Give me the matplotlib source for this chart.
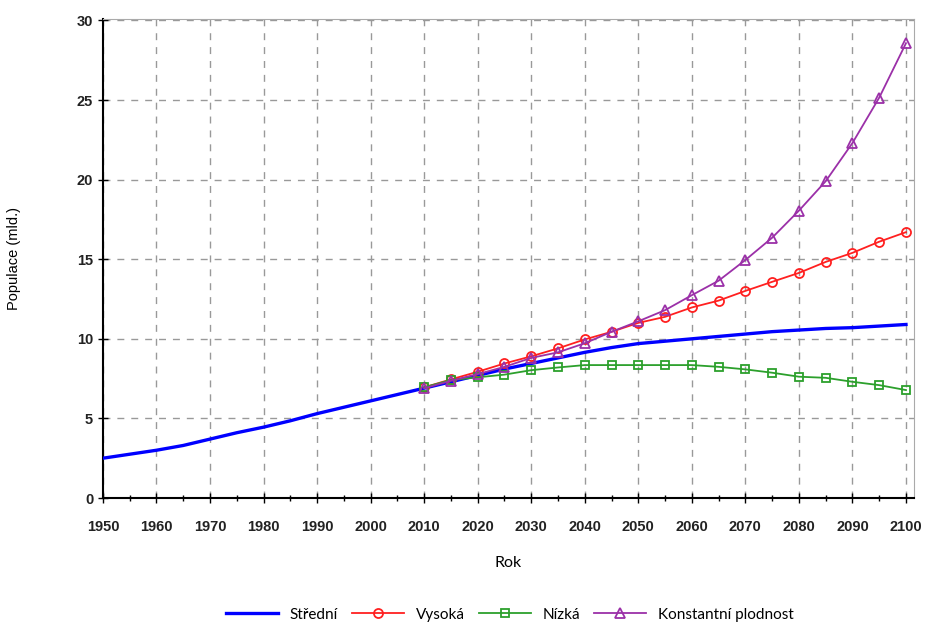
import matplotlib.pyplot as plt
from matplotlib.ticker import MultipleLocator

# data
years_hist = list(range(1950, 2101, 5))
stredni = [2.5, 2.75, 3.0, 3.3, 3.7, 4.1, 4.45, 4.85, 5.3, 5.7, 6.1, 6.5,
           6.9, 7.3, 7.7, 8.1, 8.45, 8.8, 9.15, 9.45, 9.7, 9.85, 10.0, 10.15,
           10.3, 10.45, 10.55, 10.65, 10.7, 10.8, 10.9]

years_proj = list(range(2010, 2101, 5))
vysoka = [6.95, 7.45, 7.93, 8.45, 8.9, 9.4, 9.96, 10.44, 11.0, 11.38, 11.97,
          12.4, 13.01, 13.58, 14.14, 14.83, 15.4, 16.1, 16.7]
nizka = [6.95, 7.41, 7.58, 7.75, 8.03, 8.2, 8.35, 8.35, 8.35, 8.35, 8.35,
         8.24, 8.08, 7.87, 7.62, 7.55, 7.3, 7.09, 6.78]
konst = [6.89, 7.36, 7.78, 8.24, 8.8, 9.15, 9.72, 10.44, 11.1, 11.8, 12.74,
         13.65, 14.95, 16.35, 18.05, 19.9, 22.3, 25.15, 28.57]

plt.rcParams['font.family'] = ['Liberation Sans', 'DejaVu Sans']

fig = plt.figure(figsize=(9.27, 6.28), dpi=100)
ax = fig.add_axes([0.111, 0.207, 0.875, 0.763])

ax.plot(years_hist, stredni, color='#0000ff', lw=2.4, label='Střední', zorder=3)
ax.plot(years_proj, vysoka, color='#ff2020', lw=1.3, marker='o', ms=6.5,
        mfc='none', mec='#ff2020', mew=1.3, label='Vysoká', zorder=4)
ax.plot(years_proj, nizka, color='#2ca02c', lw=1.3, marker='s', ms=6,
        mfc='none', mec='#2ca02c', mew=1.3, label='Nízká', zorder=4)
ax.plot(years_proj, konst, color='#9b30a8', lw=1.3, marker='^', ms=7,
        mfc='none', mec='#9b30a8', mew=1.3, label='Konstantní plodnost', zorder=5)

ax.set_xlim(1950, 2101.5)
ax.set_ylim(0, 30.1)
ax.xaxis.set_major_locator(MultipleLocator(10))
ax.xaxis.set_minor_locator(MultipleLocator(5))
ax.yaxis.set_major_locator(MultipleLocator(5))

ax.grid(True, which='major', color='#999999', linestyle=(0, (5, 5)), lw=1.0)
ax.tick_params(axis='both', which='major', direction='inout', length=7,
               width=1.0, labelsize=10.5)
ax.tick_params(axis='x', which='major', pad=12)
ax.tick_params(axis='x', which='minor', direction='inout', length=4, width=1.0)
for lbl in ax.get_xticklabels() + ax.get_yticklabels():
    lbl.set_fontweight('bold')
    lbl.set_color('#222222')

ax.spines['left'].set_linewidth(1.5)
ax.spines['bottom'].set_linewidth(1.5)
ax.spines['top'].set_color('#aaaaaa')
ax.spines['right'].set_color('#aaaaaa')

ax.set_xlabel('Rok', fontsize=11.5, fontfamily='Lato', labelpad=16)
ax.set_ylabel('Populace (mld.)', fontsize=10.5, labelpad=40)

fig.legend(loc='lower center', bbox_to_anchor=(0.55, -0.012), ncol=4,
           frameon=False, handlelength=3.4, columnspacing=0.9,
           prop={'family': 'Lato', 'size': 11})

fig.savefig('out.png', dpi=100)
